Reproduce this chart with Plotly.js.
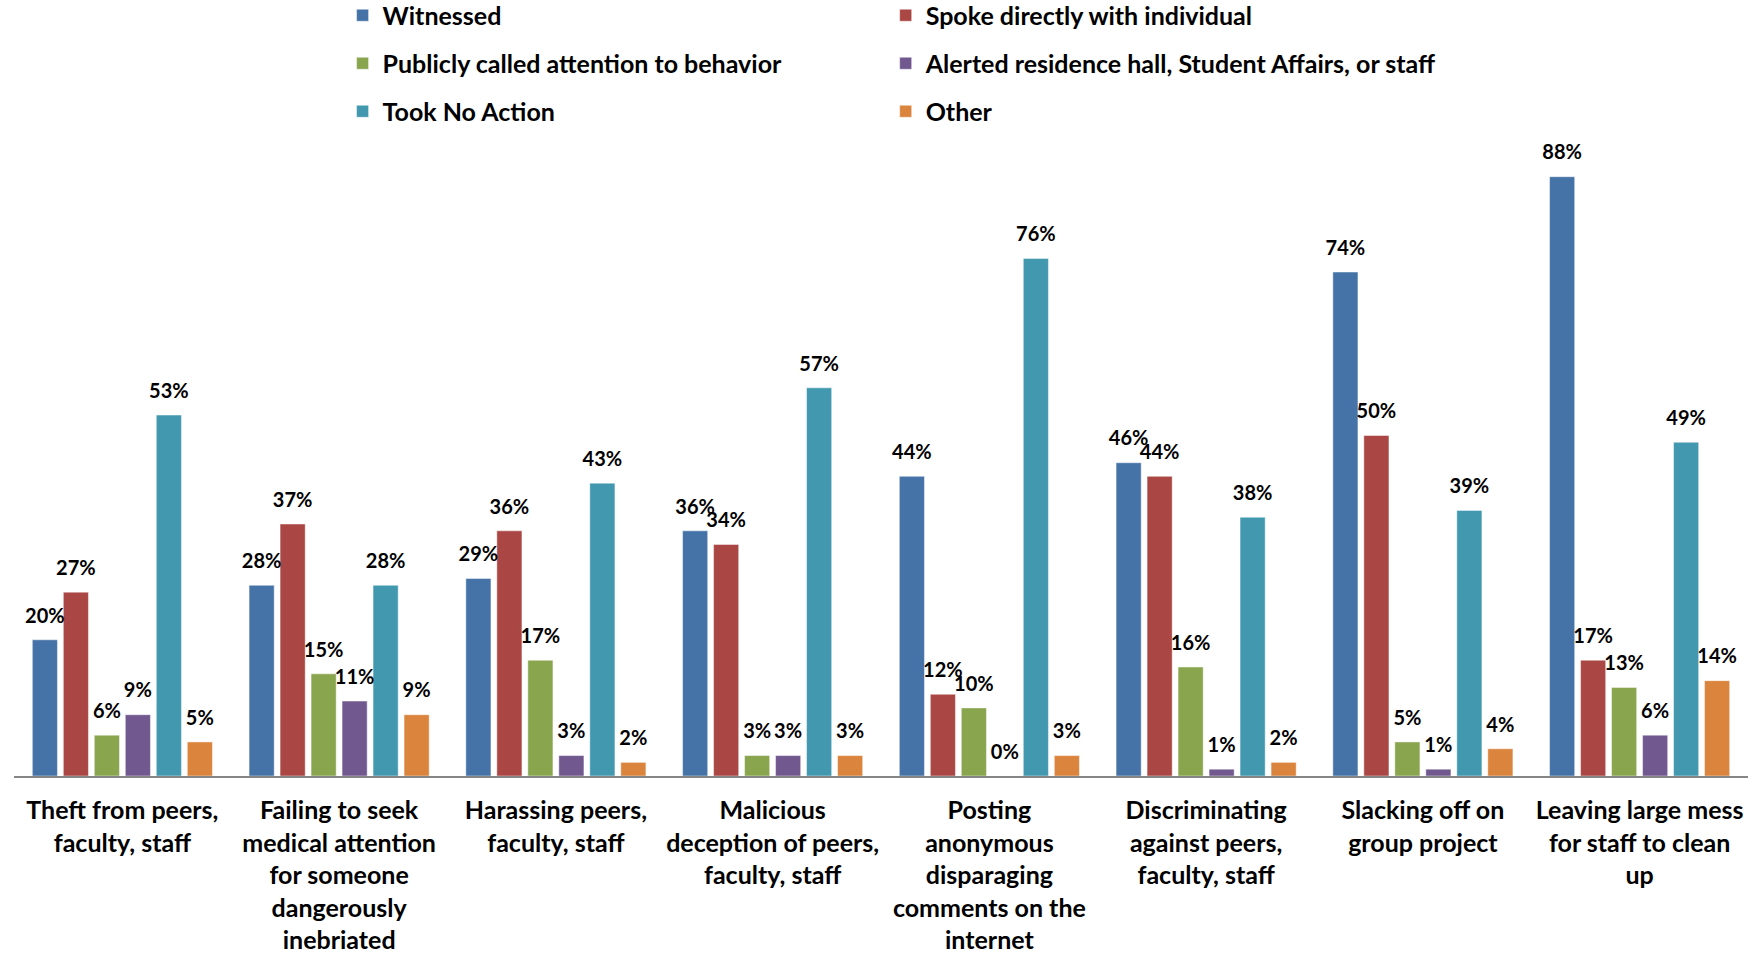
<!DOCTYPE html>
<html>
<head>
<meta charset="utf-8">
<script src="https://cdn.plot.ly/plotly-3.0.1.min.js"></script>
<style>
  html, body { margin: 0; padding: 0; background: #ffffff; }
  #chart { width: 1754px; height: 954px; }
</style>
</head>
<body>
<div id="chart"></div>
<script>
// Behaviours and how respondents reacted to them (percent of respondents)
const categories = [
  'Theft from peers, faculty, staff',
  'Failing to seek medical attention for someone dangerously inebriated',
  'Harassing peers, faculty, staff',
  'Malicious deception of peers, faculty, staff',
  'Posting anonymous disparaging comments on the internet',
  'Discriminating against peers, faculty, staff',
  'Slacking off on group project',
  'Leaving large mess for staff to clean up'
];

const tickLabels = [
  'Theft from peers,<br>faculty, staff',
  'Failing to seek<br>medical attention<br>for someone<br>dangerously<br>inebriated',
  'Harassing peers,<br>faculty, staff',
  'Malicious<br>deception of peers,<br>faculty, staff',
  'Posting<br>anonymous<br>disparaging<br>comments on the<br>internet',
  'Discriminating<br>against peers,<br>faculty, staff',
  'Slacking off on<br>group project',
  'Leaving large mess<br>for staff to clean<br>up'
];

const seriesNames = [
  'Witnessed',
  'Spoke directly with individual',
  'Publicly called attention to behavior',
  'Alerted residence hall, Student Affairs, or staff',
  'Took No Action',
  'Other'
];

const witnessed      = [20, 28, 29, 36, 44, 46, 74, 88];
const spokeDirectly  = [27, 37, 36, 34, 12, 44, 50, 17];
const publiclyCalled = [6, 15, 17, 3, 10, 16, 5, 13];
const alertedStaff   = [9, 11, 3, 3, 0, 1, 1, 6];
const tookNoAction   = [53, 28, 43, 57, 76, 38, 39, 49];
const otherAction    = [5, 9, 2, 3, 3, 2, 4, 14];

const seriesValues = [witnessed, spokeDirectly, publiclyCalled, alertedStaff, tookNoAction, otherAction];
const seriesColors = ['#4572A7', '#AA4643', '#89A54E', '#71588F', '#4198AF', '#DB843D'];
// two legend columns, filled row by row
const legendColumns = ['legend', 'legend2', 'legend', 'legend2', 'legend', 'legend2'];

const FONT = 'Lato, "Open Sans", "Liberation Sans", sans-serif';

const barTraces = seriesNames.map((name, i) => ({
  type: 'bar',
  name: name,
  x: categories,
  y: seriesValues[i],
  legend: legendColumns[i],
  legendgroup: name,
  marker: {
    color: seriesColors[i],
    line: { color: 'rgba(255,255,255,0.45)', width: 1 }
  },
  hoverinfo: 'x+y+name'
}));

// value labels, grouped to sit over their own bars
const labelTraces = seriesNames.map((name, i) => ({
  type: 'scatter',
  mode: 'markers+text',
  x: categories,
  y: seriesValues[i],
  text: seriesValues[i].map(v => v + '%'),
  textposition: 'top center',
  textfont: { family: FONT, size: 20, color: '#000000', weight: 'bold' },
  marker: { size: 18, opacity: 0, color: seriesColors[i] },
  cliponaxis: false,
  showlegend: false,
  hoverinfo: 'skip'
}));

const legendBase = {
  xanchor: 'left',
  y: 1.1505,
  yanchor: 'top',
  orientation: 'v',
  traceorder: 'grouped',
  tracegroupgap: 12.5,
  bgcolor: 'rgba(0,0,0,0)',
  borderwidth: 0,
  font: { family: FONT, size: 25, color: '#000000', weight: 'bold' }
};

const layout = {
  width: 1754,
  height: 954,
  paper_bgcolor: '#ffffff',
  plot_bgcolor: '#ffffff',
  margin: { l: 14, r: 6, t: 95, b: 178, autoexpand: false },
  barmode: 'group',
  bargap: 0.142,
  bargroupgap: 0.19,
  scattermode: 'group',
  scattergap: 0.142,
  showlegend: true,
  legend: Object.assign({}, legendBase, { x: 0.1895 }),
  legend2: Object.assign({}, legendBase, { x: 0.5027 }),
  xaxis: {
    type: 'category',
    categoryorder: 'array',
    categoryarray: categories,
    tickvals: categories,
    ticktext: tickLabels,
    tickangle: 0,
    ticks: '',
    ticklabelstandoff: 11,
    tickfont: { family: FONT, size: 25, color: '#000000', weight: 'bold' },
    showline: true,
    linecolor: '#868686',
    linewidth: 2,
    showgrid: false,
    zeroline: false,
    fixedrange: true
  },
  yaxis: {
    range: [0, 100],
    visible: false,
    showgrid: false,
    zeroline: false,
    fixedrange: true
  }
};

Plotly.newPlot('chart', barTraces.concat(labelTraces), layout, { displayModeBar: false, staticPlot: true });
</script>
</body>
</html>
